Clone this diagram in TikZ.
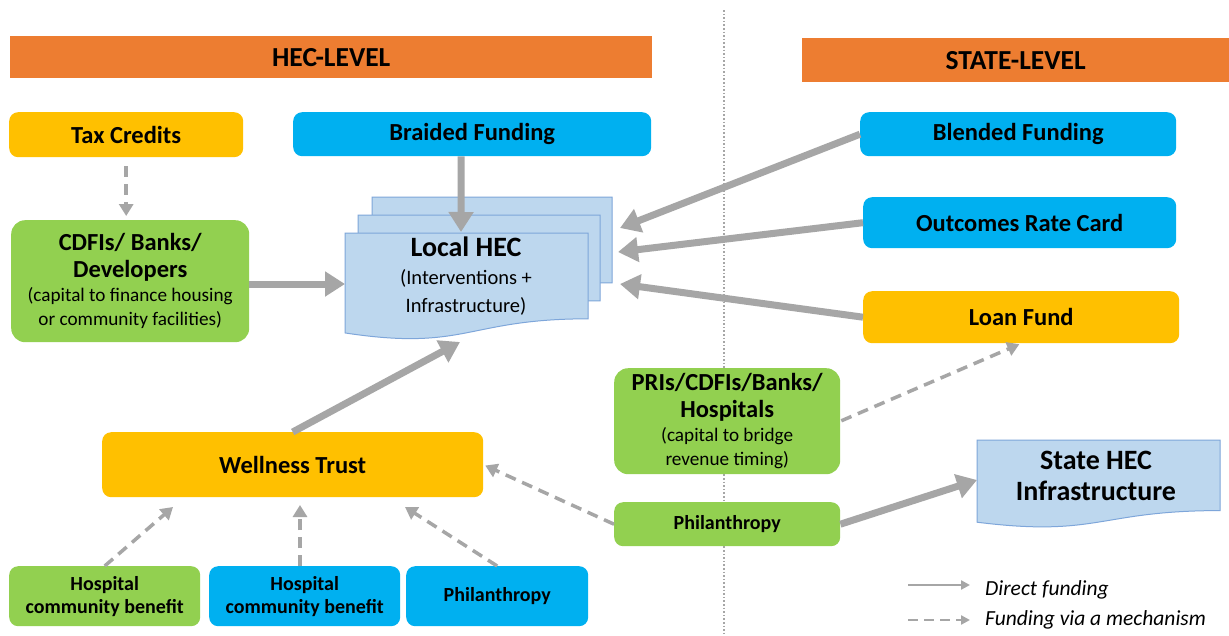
\documentclass[tikz,border=0pt]{standalone}
\usepackage{fontspec}
\setmainfont{Carlito}
\usetikzlibrary{arrows.meta}
\definecolor{orng}{HTML}{ED7D31}
\definecolor{ylw}{HTML}{FFC000}
\definecolor{blu}{HTML}{00B0F0}
\definecolor{grn}{HTML}{92D050}
\definecolor{docfill}{HTML}{BDD7EE}
\definecolor{docline}{HTML}{7EA6DA}
\definecolor{arr}{HTML}{A6A6A6}
\newcommand\fBar{\fontsize{27.5}{30}\selectfont\bfseries}
\newcommand\fHead{\fontsize{24.5}{27}\selectfont\bfseries}
\newcommand\fSmallB{\fontsize{20}{23}\selectfont\bfseries}
\newcommand\fSub{\fontsize{19.2}{22.5}\selectfont\mdseries}
\newcommand\fBig{\fontsize{28}{31}\selectfont\bfseries}
\newcommand\docshape[4]{%
  \pgfmathsetmacro\dcXr{#1+#3}\pgfmathsetmacro\dcYr{#2+0.802*#4}%
  \pgfmathsetmacro\dcXm{#1+0.5*#3}\pgfmathsetmacro\dcYm{#2+1.107*#4}%
  \pgfmathsetmacro\dcYl{#2+0.934*#4}%
  \path[docsty] (#1,#2) -- (\dcXr,#2) -- (\dcXr,\dcYr) .. controls (\dcXm,\dcYr) and (\dcXm,\dcYm) .. (#1,\dcYl) -- cycle;}
\tikzset{
  box/.style={rounded corners=9pt, inner sep=0pt, align=center, anchor=north west, text=black, font=\fHead},
  bar/.style={fill=orng, inner sep=0pt, anchor=north west, font=\fBar, text=black},
  docsty/.style={fill=docfill, draw=docline, line width=1pt},
  solidarr/.style={draw=arr, line width=7pt, -{Triangle[length=20pt,width=24pt]}},
  dasharr/.style={draw=arr, line width=3.5pt, dash pattern=on 11pt off 7pt, -{Triangle[length=12pt,width=14pt]}},
  legsolid/.style={draw=arr, line width=2.5pt, -{Triangle[length=9pt,width=9pt]}},
  legdash/.style={draw=arr, line width=2.5pt, dash pattern=on 10pt off 6pt, -{Triangle[length=9pt,width=9pt]}},
}
\begin{document}
\begin{tikzpicture}[x=1pt,y=-1pt]
\useasboundingbox (0,0) rectangle (1229,635);
\fill[white] (0,0) rectangle (1229,635);
% divider
\draw[arr, line width=1.6pt, dotted] (724,10) -- (724,635);
% level bars
\node[bar, minimum width=642pt, minimum height=42pt] (hecbar) at (10,36) {HEC-LEVEL};
\node[bar, minimum width=427pt, minimum height=44pt] (statebar) at (802,38) {STATE-LEVEL};
% boxes
\node[box, fill=ylw, minimum width=234pt, minimum height=45pt] (tax) at (9,112) {Tax Credits};
\node[box, fill=blu, minimum width=358pt, minimum height=44pt] (braided) at (293,112) {Braided Funding};
\node[box, fill=blu, minimum width=316pt, minimum height=44pt] (blended) at (860,112) {Blended Funding};
\node[box, fill=blu, minimum width=313pt, minimum height=51pt] (outcomes) at (863,197) {Outcomes Rate Card};
\node[box, fill=ylw, minimum width=316pt, minimum height=52pt] (loan) at (863,291) {Loan Fund};
\node[box, fill=grn, minimum width=238pt, minimum height=122pt, rounded corners=14pt] (cdfi) at (11,220)
  {CDFIs/ Banks/\\Developers\\[-3pt]{\fSub (capital to finance housing}\\[-3pt]{\fSub or community facilities)}};
\node[box, fill=ylw, minimum width=381pt, minimum height=65pt] (wellness) at (102,432) {Wellness Trust};
\node[box, fill=grn, minimum width=191pt, minimum height=60pt, font=\fSmallB] (hosp1) at (9,566) {Hospital\\community benefit};
\node[box, fill=blu, minimum width=191pt, minimum height=60pt, font=\fSmallB] (hosp2) at (209,566) {Hospital\\community benefit};
\node[box, fill=blu, minimum width=182pt, minimum height=60pt, font=\fSmallB] (philB) at (406,566) {Philanthropy};
\node[box, fill=grn, minimum width=226pt, minimum height=106pt, rounded corners=14pt] (pris) at (614,368)
  {PRIs/CDFIs/Banks/\\Hospitals\\[-3pt]{\fSub (capital to bridge}\\[-3pt]{\fSub revenue timing)}};
\node[box, fill=grn, minimum width=226pt, minimum height=44pt, font=\fSmallB] (philG) at (614,502) {Philanthropy};
% Local HEC (multi-document)
\docshape{372}{197}{240}{107}
\docshape{358}{215}{242}{107}
\docshape{345}{233}{243}{107}
\node[align=center, font=\fBig, inner sep=0pt] (local) at (466,276)
  {Local HEC\\[-3pt]{\fontsize{20.5}{23}\selectfont\mdseries (Interventions +}\\[-3pt]{\fontsize{20.5}{23}\selectfont\mdseries Infrastructure)}};
% State HEC
\docshape{977}{440}{243}{88}
\node[align=center, font=\fBig, inner sep=0pt] (state) at (1096,476) {State HEC\\Infrastructure};
% arrow end points on the documents
\coordinate (lhTop) at (461,232);
\coordinate (lhW) at (345,284);
\coordinate (lhB) at (620,228);
\coordinate (lhC) at (618,252);
\coordinate (lhD) at (620,284);
\coordinate (lhE) at (460,342);
\coordinate (stW) at (977,480);
\coordinate (wt1) at (173,507);
\coordinate (wt2) at (300,505);
\coordinate (wt3) at (405,507);
% solid arrows
\draw[solidarr] ([xshift=-11pt]braided.south) -- (lhTop);
\draw[solidarr] (cdfi.east |- lhW) -- (lhW);
\draw[solidarr] (blended.west) -- (lhB);
\draw[solidarr] (outcomes.west) -- (lhC);
\draw[solidarr] (loan.west) -- (lhD);
\draw[solidarr] (wellness.north) -- (lhE);
\draw[solidarr] (philG.east) -- (stW);
% dashed arrows
\draw[dasharr, shorten <=9pt, shorten >=4pt] (tax.south) -- (cdfi.north -| tax.south);
\draw[dasharr, shorten <=1pt, shorten >=2pt] (pris.east) -- (loan.south);
\draw[dasharr, shorten >=2pt] (philG.west) -- (wellness.east);
\draw[dasharr] (hosp1.north) -- (wt1);
\draw[dasharr] (hosp2.north -| wt2) -- (wt2);
\draw[dasharr] (philB.north) -- (wt3);
% legend
\coordinate (l1a) at (908,585);
\coordinate (l1b) at (970,585);
\coordinate (l2a) at (908,620);
\coordinate (l2b) at (970,620);
\draw[legsolid] (l1a) -- (l1b);
\draw[legdash] (l2a) -- (l2b);
\node[anchor=west, font=\fontsize{21.5}{24}\selectfont\itshape, inner sep=0pt] (leg1) at (985,590) {Direct funding};
\node[anchor=west, font=\fontsize{21.5}{24}\selectfont\itshape, inner sep=0pt] (leg2) at (985,620) {Funding via a mechanism};
\end{tikzpicture}
\end{document}
